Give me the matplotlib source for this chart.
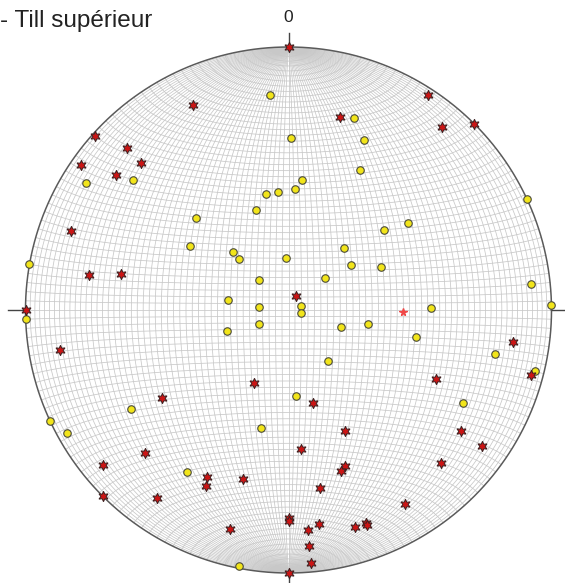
import numpy as np
import matplotlib
matplotlib.use("Agg")
import matplotlib.pyplot as plt

# Lower-hemisphere equal-area (Schmidt) net, 2 degree grid
title = "- Till supérieur"
north_label = "0"

# Stars: trend / plunge (degrees)
star_trend = [0, 335, 312, 315, 305, 315, 308, 290, 280, 282, 270, 15, 28, 33, 45, 40,
              260, 235, 225, 230, 225, 215, 206, 205, 205, 165, 155, 175, 160, 162,
              195, 170, 180, 180, 195, 175, 172, 163, 160, 160, 175, 175, 180,
              98, 105, 115, 125, 125, 135, 149]
star_plunge = [0, 15, 1, 14, 4, 22, 18, 13, 24, 35, 0, 25, 85, 3, 0, 10,
               13, 41, 24, 9, 0, 14, 30, 27, 65, 60, 48, 46, 37, 36,
               34, 32, 22, 21, 15, 17, 19, 15, 15, 14, 11, 4, 0,
               15, 5, 38, 21, 11, 19, 15]

# Circles: trend / plunge (degrees)
circ_trend = [355, 19, 1, 24, 27, 6, 3, 349, 355, 342, 50, 316, 42, 316, 357, 54, 65,
              316, 49, 279, 276, 70, 104, 302, 310, 315, 303, 280, 54, 65, 84, 89, 89,
              268, 251, 244, 108, 100, 142, 175, 193, 238, 245, 241, 212, 191,
              102, 102, 104, 118]
circ_plunge = [19, 24, 35, 30, 40, 49, 52, 53, 53, 57, 51, 65, 64, 68, 74, 66, 58,
               77, 75, 71, 81, 86, 86, 10, 24, 49, 53, 0, 43, 0, 8, 45, 0,
               0, 70, 80, 73, 65, 70, 63, 52, 30, 0, 4, 28, 1,
               49, 21, 4, 26]

# Mean direction
mean_trend = [91]
mean_plunge = [54]


def project(e, n, d):
    """Equal-area projection of (east, north, down) unit vectors."""
    s = 1.0 / np.sqrt(1.0 + d)
    return e * s, n * s


def project_tp(trend, plunge):
    t = np.radians(np.asarray(trend, float))
    p = np.radians(np.asarray(plunge, float))
    e = np.cos(p) * np.sin(t)
    n = np.cos(p) * np.cos(t)
    d = np.sin(p)
    return project(e, n, d)


W, H = 565, 583
fig = plt.figure(figsize=(W / 100, H / 100), dpi=100)
cx, cy, R = 288.5, 310.0, 263.0
ax = fig.add_axes([(cx - R) / W, (H - cy - R) / H, 2 * R / W, 2 * R / H])
ax.set_xlim(-1, 1)
ax.set_ylim(-1, 1)
ax.set_aspect("equal")
ax.axis("off")

grid_col = "#c8c8c8"
lw = 0.55
t = np.radians(np.linspace(-90, 90, 361))
# great circles striking N-S
for dip in range(2, 180, 2):
    a = np.radians(dip)
    e = np.cos(t) * np.cos(a)
    n = np.sin(t)
    d = np.cos(t) * np.sin(a)
    x, y = project(e, n, d)
    ax.plot(x, y, color=grid_col, lw=lw, zorder=1)
# small circles about the N-S axis
phi = np.radians(np.linspace(0, 180, 361))
for cone in range(2, 180, 2):
    a = np.radians(cone)
    e = np.sin(a) * np.cos(phi)
    n = np.full_like(phi, np.cos(a))
    d = np.sin(a) * np.sin(phi)
    x, y = project(e, n, d)
    ax.plot(x, y, color=grid_col, lw=lw, zorder=1)

# primitive circle
th = np.linspace(0, 2 * np.pi, 721)
ax.plot(np.cos(th), np.sin(th), color="#5a5a5a", lw=1.1, zorder=2, clip_on=False)

# cardinal ticks
tick_col = "#444444"
ax.plot([0, 0], [1, 1.055], color=tick_col, lw=1, clip_on=False)
ax.plot([0, 0], [-1, -1.04], color=tick_col, lw=1, clip_on=False)
ax.plot([-1, -1.065], [0, 0], color=tick_col, lw=1, clip_on=False)
ax.plot([1, 1.05], [0, 0], color=tick_col, lw=1, clip_on=False)

# data
xc, yc = project_tp(circ_trend, circ_plunge)
ax.plot(xc, yc, "o", ms=5.4, mfc="#f2e51a", mec="#4a4a3a", mew=0.8, ls="none",
        zorder=4, clip_on=False)
xs, ys = project_tp(star_trend, star_plunge)
ax.plot(xs, ys, marker=(6, 1, 0), ms=7.5, mfc="#cc1414", mec="#3a2020", mew=0.7,
        ls="none", zorder=5, clip_on=False)
xm, ym = project_tp(mean_trend, mean_plunge)
ax.plot(xm, ym, marker="*", ms=5.5, color="#f04848", ls="none", zorder=6)

fig.text(0.0, 1 - 21 / H, title, fontsize=17.5, family="Liberation Sans",
         color="#222222", ha="left", va="center")
fig.text(cx / W, 1 - 17 / H, north_label, fontsize=12.5, family="Liberation Sans",
         color="#222222", ha="center", va="center")

fig.savefig("out.png", dpi=100, facecolor="white")
